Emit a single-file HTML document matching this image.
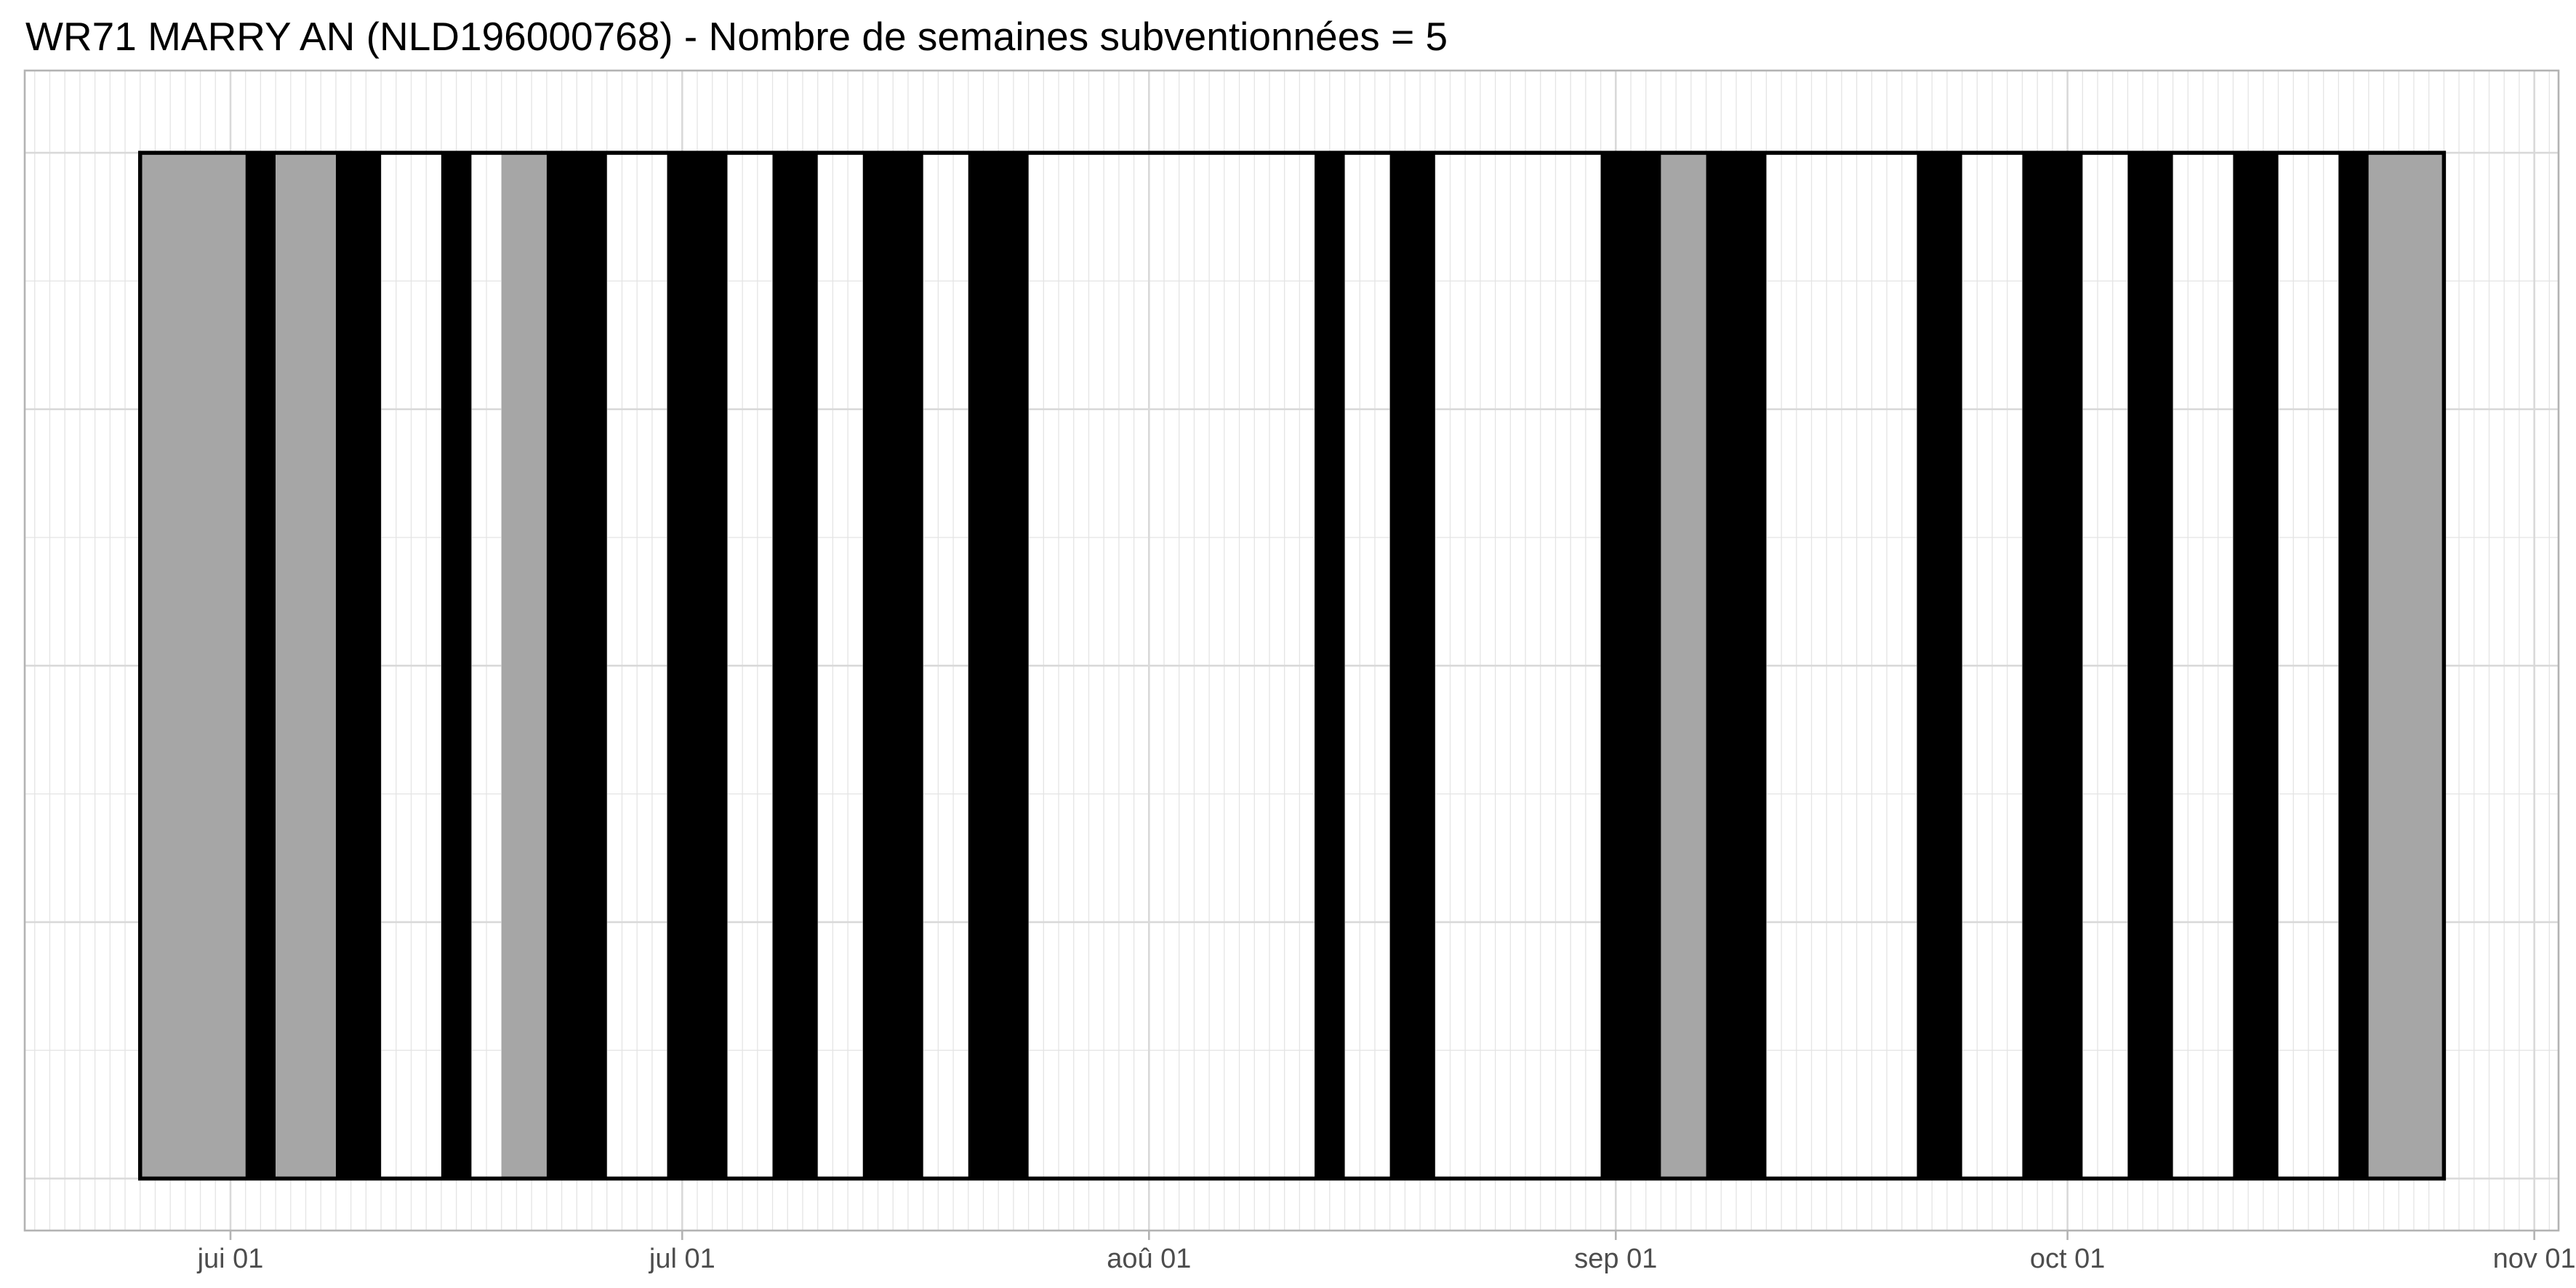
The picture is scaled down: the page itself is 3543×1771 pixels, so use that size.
<!DOCTYPE html>
<html><head><meta charset="utf-8"><style>
html,body{margin:0;padding:0;background:#fff}
svg{display:block}
</style></head><body>
<svg id="chart" width="3543" height="1771" viewBox="0 0 3543 1771" xmlns="http://www.w3.org/2000/svg">
<rect x="0" y="0" width="3543" height="1771" fill="#fff"/>
<text x="35" y="69" font-family="Liberation Sans, sans-serif" font-size="55" fill="#000">WR71 MARRY AN (NLD196000768) - Nombre de semaines subventionnées = 5</text>
<g id="grid"></g>
<g id="bars"></g>
<g id="axis"></g>
</svg>
<script>
// ---- data ----
const startDate = "2023-05-26";
const segStartDay = [0,7,9,13,16,20,22,24,27,31,35,39,42,45,48,52,55,59,78,80,83,86,97,101,104,108,118,121,125,129,132,135,139,142,146,148];
const segEndDay   = [7,9,13,16,20,22,24,27,31,35,39,42,45,48,52,55,59,78,80,83,86,97,101,104,108,118,121,125,129,132,135,139,142,146,148,153];
const segStatus   = ["gray","black","gray","black","none","black","none","gray","black","none","black","none","black","none","black","none","black","none","black","none","black","none","black","gray","black","none","black","none","black","none","black","none","black","none","black","gray"];
const tickDates  = ["2023-06-01","2023-07-01","2023-08-01","2023-09-01","2023-10-01","2023-11-01"];
const tickLabels = ["jui 01","jul 01","aoû 01","sep 01","oct 01","nov 01"];
const yMajor = [0,1,2,3,4];

// ---- scales ----
const NS = "http://www.w3.org/2000/svg";
const panel = {l:34, r:3519, t:97, b:1692};
const dayMs = 86400000;
const ref = Date.parse("2023-06-01T00:00:00Z");
const pxPerDay = 20.71, refX = 317;
function xDate(s){ return refX + (Date.parse(s+"T00:00:00Z") - ref)/dayMs*pxPerDay; }
const x0 = xDate(startDate);
function xDay(d){ return x0 + d*pxPerDay; }
function yVal(v){ return 1620.5 - v*352.6; }
function mk(tag, attrs, parent){ const e=document.createElementNS(NS,tag); for(const k in attrs) e.setAttribute(k,attrs[k]); parent.appendChild(e); return e; }

const grid = document.getElementById('grid');
const bars = document.getElementById('bars');
const axis = document.getElementById('axis');

const firstDay = Math.ceil((panel.l - refX)/pxPerDay), lastDay = Math.floor((panel.r - refX)/pxPerDay);
for(let d=firstDay; d<=lastDay; d++){
  const x = refX + d*pxPerDay;
  const ln = mk('line',{x1:x,x2:x,y1:panel.t,y2:panel.b,stroke:'#e4e4e4','stroke-width':1.3},grid);
  
  
}
for(let i=0;i<yMajor.length-1;i++){
  const y = yVal(yMajor[i]+0.5);
  const ln = mk('line',{x1:panel.l,x2:panel.r,y1:y,y2:y,stroke:'#e4e4e4','stroke-width':1.3},grid);
  
  
}
yMajor.forEach(v=>{
  const y=yVal(v);
  const ln = mk('line',{x1:panel.l,x2:panel.r,y1:y,y2:y,stroke:'#d9d9d9','stroke-width':2.6},grid);
  
  
});
tickDates.forEach(s=>{
  const x=xDate(s);
  const ln = mk('line',{x1:x,x2:x,y1:panel.t,y2:panel.b,stroke:'#d9d9d9','stroke-width':2.6},grid);
  
  
});
const pb = mk('rect',{x:panel.l,y:panel.t,width:panel.r-panel.l,height:panel.b-panel.t,fill:'none',stroke:'#b3b3b3','stroke-width':2.6},grid);



const yTop = yVal(4), yBot = yVal(0);
segStatus.forEach((st,i)=>{
  if(st==='none') return;
  const xa = xDay(segStartDay[i]), xb = xDay(segEndDay[i]);
  const r = mk('rect',{x:xa,y:yTop,width:xb-xa,height:yBot-yTop,fill:st==='gray'?'#a6a6a6':'#000'},bars);
  
  
});
const ox1 = xDay(segStartDay[0]), ox2 = xDay(segEndDay[segEndDay.length-1]);
const ol = mk('rect',{x:ox1,y:yTop,width:ox2-ox1,height:yBot-yTop,fill:'none',stroke:'#000','stroke-width':5.5},bars);



tickDates.forEach((s,i)=>{
  const x=xDate(s);
  const t = mk('line',{x1:x,x2:x,y1:panel.b,y2:panel.b+13,stroke:'#b3b3b3','stroke-width':2.6},axis);
  
  
  const tx = mk('text',{x:x,y:1743,'text-anchor':'middle','font-family':'Liberation Sans, sans-serif','font-size':'38',fill:'#4d4d4d'},axis);
  tx.textContent = tickLabels[i];
  
  
});
</script>
</body></html>
